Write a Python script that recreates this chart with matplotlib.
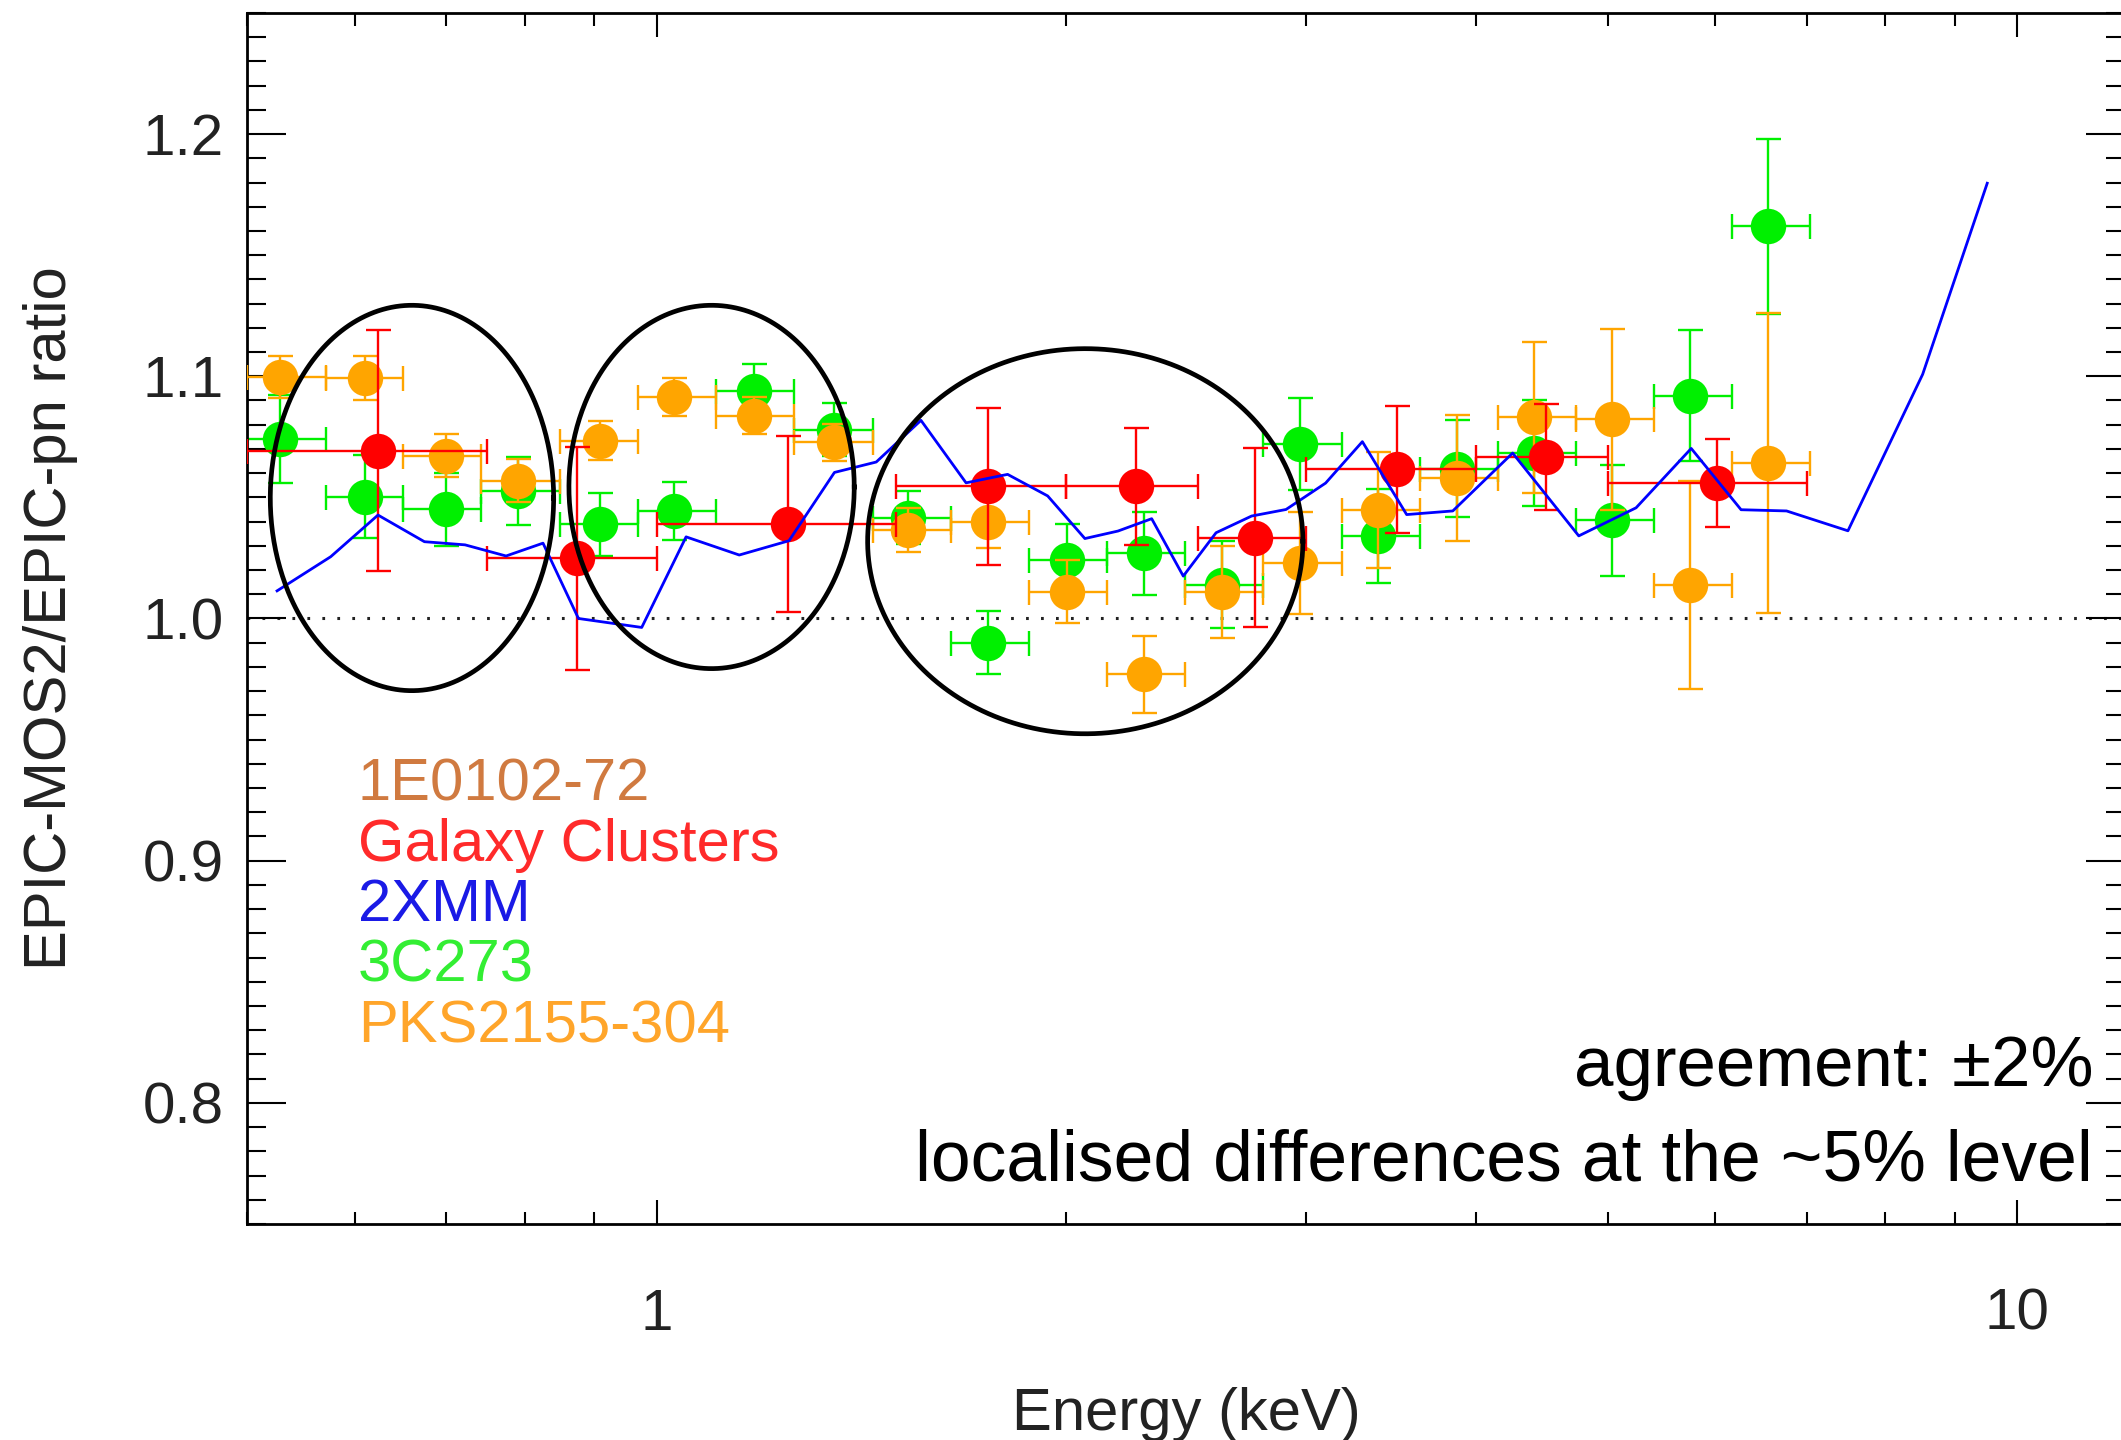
import numpy as np
import matplotlib.pyplot as plt
from matplotlib.ticker import MultipleLocator, LogLocator, NullFormatter, FuncFormatter

plt.rcParams['font.family'] = ['Liberation Sans', 'DejaVu Sans']

# 3C273 and PKS2155-304 energy bins (keV)
bin_e = [0.529, 0.610, 0.700, 0.791, 0.909, 1.030, 1.180, 1.351, 1.531, 1.752,
         2.002, 2.280, 2.602, 2.971, 3.389, 3.873, 4.41, 5.04, 5.744, 6.56]
bin_lo = [0.50, 0.571, 0.651, 0.743, 0.849, 0.969, 1.106, 1.262, 1.441, 1.645,
          1.877, 2.143, 2.446, 2.792, 3.187, 3.637, 4.152, 4.739, 5.409, 6.174]
bin_hi = [0.571, 0.651, 0.743, 0.849, 0.969, 1.106, 1.262, 1.441, 1.645, 1.877,
          2.143, 2.446, 2.792, 3.187, 3.637, 4.152, 4.739, 5.409, 6.174, 7.047]

green_r = [1.0741, 1.0503, 1.045, 1.0528, 1.039, 1.0445, 1.094, 1.078, 1.0416, 0.9899,
           1.024, 1.0269, 1.014, 1.0719, 1.0341, 1.0619, 1.0683, 1.0405, 1.092, 1.1619]
green_err = [0.018, 0.017, 0.015, 0.014, 0.013, 0.012, 0.011, 0.011, 0.011, 0.013,
             0.015, 0.017, 0.018, 0.019, 0.0195, 0.020, 0.022, 0.023, 0.027, 0.036]

orange_r = [1.0996, 1.0993, 1.0672, 1.0569, 1.0734, 1.0913, 1.0837, 1.0727, 1.0365, 1.040,
            1.011, 0.9769, 1.011, 1.023, 1.0448, 1.0579, 1.083, 1.0822, 1.0138, 1.0643]
orange_err = [0.0086, 0.009, 0.0088, 0.0089, 0.008, 0.0078, 0.0077, 0.0076, 0.009, 0.011,
              0.013, 0.0158, 0.0189, 0.021, 0.024, 0.026, 0.031, 0.0374, 0.043, 0.062]

# galaxy clusters
red_e = [0.624, 0.874, 1.249, 1.752, 2.250, 2.753, 3.503, 4.502, 6.016]
red_lo = [0.5, 0.75, 1.0, 1.5, 2.0, 2.5, 3.0, 4.0, 5.0]
red_hi = [0.75, 1.0, 1.5, 2.0, 2.5, 3.0, 4.0, 5.0, 7.0]
red_r = [1.0693, 1.0248, 1.039, 1.0545, 1.0545, 1.0333, 1.0616, 1.0667, 1.0559]
red_err = [0.0497, 0.046, 0.0365, 0.0324, 0.024, 0.037, 0.0262, 0.0218, 0.0181]

# 2XMM
xmm_e = [0.526, 0.576, 0.624, 0.675, 0.723, 0.775, 0.825, 0.876, 0.975, 1.051,
         1.150, 1.251, 1.351, 1.45, 1.564, 1.688, 1.811, 1.938, 2.064, 2.183,
         2.311, 2.438, 2.577, 2.737, 2.901, 3.102, 3.301, 3.558, 3.847, 4.257,
         4.761, 5.246, 5.759, 6.266, 6.767, 7.508, 8.52, 9.504]
xmm_r = [1.0114, 1.0255, 1.0427, 1.0317, 1.0304, 1.0258, 1.0311, 1.0, 0.9963, 1.0337,
         1.0262, 1.0321, 1.0603, 1.0646, 1.0818, 1.056, 1.0595, 1.0506, 1.033, 1.0361,
         1.0412, 1.0175, 1.0354, 1.0423, 1.045, 1.0559, 1.073, 1.0429, 1.0444, 1.0683,
         1.0341, 1.0457, 1.0702, 1.0449, 1.0444, 1.0362, 1.1008, 1.1797]

# highlighted regions: energy range, ratio range
circles = [(0.520, 0.840, 0.9702, 1.1293),
           (0.862, 1.397, 0.9793, 1.1293),
           (1.429, 2.985, 0.9524, 1.1114)]

labels = ['1E0102-72', 'Galaxy Clusters', '2XMM', '3C273', 'PKS2155-304']
label_colors = ['#d07a40', '#ff2a2a', '#1a1ae6', '#33ee33', '#ffa52a']

fig = plt.figure(figsize=(21.21, 14.4), dpi=100)
ax = fig.add_axes([0.1165, 0.15, 0.8854, 0.841])

def xerr(e, lo, hi):
    e = np.array(e)
    return [e - np.array(lo), np.array(hi) - e]

eb = dict(fmt='o', ms=25.5, mec='none', elinewidth=1.7, capsize=9, capthick=1.7)
ax.axhline(1.0, color='#222222', lw=2.2, ls=(0, (0.9, 4.0)), zorder=1)
ax.errorbar(bin_e, green_r, xerr=xerr(bin_e, bin_lo, bin_hi), yerr=green_err,
            color='#00f000', zorder=2, **eb)
ax.errorbar(bin_e, orange_r, xerr=xerr(bin_e, bin_lo, bin_hi), yerr=orange_err,
            color='#ffa500', zorder=3, **eb)
ax.errorbar(red_e, red_r, xerr=xerr(red_e, red_lo, red_hi), yerr=red_err,
            color='#ff0000', zorder=4, **eb)
ax.plot(xmm_e, xmm_r, color='#0000ff', lw=2.0, zorder=5)

t = np.linspace(0, 2 * np.pi, 400)
for lo, hi, rlo, rhi in circles:
    cx = (np.log10(lo) + np.log10(hi)) / 2
    a = (np.log10(hi) - np.log10(lo)) / 2
    cy = (rlo + rhi) / 2
    b = (rhi - rlo) / 2
    ax.plot(10 ** (cx + a * np.cos(t)), cy + b * np.sin(t), color='black', lw=3.4, zorder=6)

ax.set_xscale('log')
ax.set_xlim(0.5, 12)
ax.set_ylim(0.75, 1.25)
ax.xaxis.set_major_locator(LogLocator(base=10))
ax.xaxis.set_minor_locator(LogLocator(base=10, subs=np.arange(2, 10)))
ax.xaxis.set_major_formatter(FuncFormatter(lambda v, p: '%g' % v))
ax.xaxis.set_minor_formatter(NullFormatter())
ax.yaxis.set_major_locator(MultipleLocator(0.1))
ax.yaxis.set_minor_locator(MultipleLocator(0.01))
ax.yaxis.set_major_formatter(FuncFormatter(lambda v, p: '%.1f' % v))

ax.tick_params(which='both', direction='in', top=True, right=True, width=1.5,
               labelsize=42, labelcolor='#222222')
ax.tick_params(axis='x', which='major', length=17, pad=46)
ax.tick_params(axis='x', which='minor', length=9)
ax.tick_params(axis='y', which='major', length=28, pad=17)
ax.tick_params(axis='y', which='minor', length=14)
for s in ax.spines.values():
    s.set_linewidth(2)

ax.set_xlabel('Energy (keV)', fontsize=43, color='#222222')
ax.xaxis.set_label_coords(0.5, -0.135)
ax.set_ylabel('EPIC-MOS2/EPIC-pn ratio', fontsize=43, color='#222222')
ax.yaxis.set_label_coords(-0.09, 0.5)

for i, (lab, c) in enumerate(zip(labels, label_colors)):
    ax.text(0.059, 0.35 - 0.05 * i, lab, color=c, fontsize=43,
            transform=ax.transAxes, va='baseline', ha='left')

ax.text(0.983, 0.114, 'agreement: \u00b12%', fontsize=51, ha='right', va='baseline',
        transform=ax.transAxes)
ax.text(0.983, 0.036, 'localised differences at the ~5% level', fontsize=51.5,
        ha='right', va='baseline', transform=ax.transAxes)

plt.savefig('out.png', dpi=100)
